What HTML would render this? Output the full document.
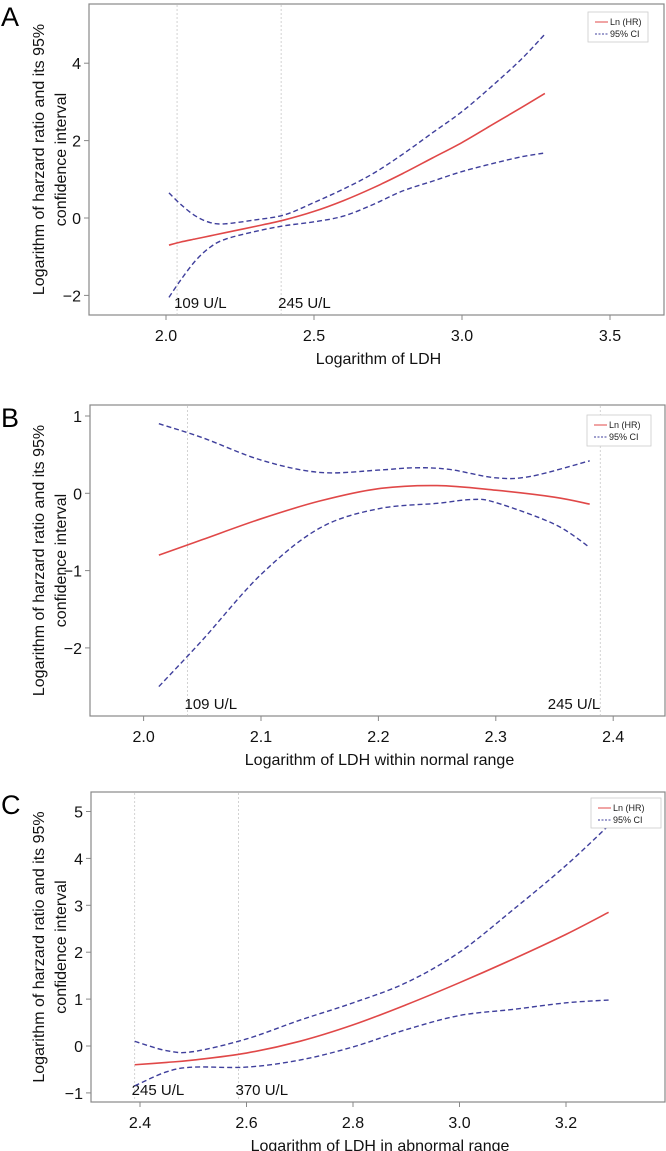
<!DOCTYPE html>
<html><head><meta charset="utf-8">
<style>
html,body{margin:0;padding:0;background:#fff;}
svg{display:block;font-family:"Liberation Sans",sans-serif;}
</style></head>
<body>
<svg id="fig" width="666" height="1151" viewBox="0 0 666 1151" xmlns="http://www.w3.org/2000/svg"></svg>
<script>
// ---------- Panel A data ----------
const aX = [2.01,2.05,2.1,2.15,2.2,2.3,2.4,2.5,2.6,2.7,2.8,2.9,3.0,3.1,3.2,3.28];
const aHR = [-0.7,-0.62,-0.54,-0.46,-0.38,-0.22,-0.05,0.17,0.45,0.78,1.15,1.55,1.95,2.4,2.85,3.22];
const aUp = [0.65,0.35,0.05,-0.12,-0.15,-0.05,0.08,0.4,0.75,1.15,1.65,2.2,2.75,3.4,4.1,4.75];
const aLo = [-2.05,-1.6,-1.1,-0.75,-0.55,-0.35,-0.2,-0.1,0.05,0.35,0.7,0.95,1.2,1.4,1.58,1.68];
const aXTicks = [2.0,2.5,3.0,3.5];
const aXTickLabels = ["2.0","2.5","3.0","3.5"];
const aYTicks = [-2,0,2,4];
const aYTickLabels = ["\u22122","0","2","4"];
const aRefX = [2.0374,2.389];
const aRefLabels = ["109 U/L","245 U/L"];
// ---------- Panel B data ----------
const bX = [2.013,2.05,2.1,2.15,2.2,2.25,2.3,2.35,2.38];
const bHR = [-0.8,-0.6,-0.33,-0.1,0.06,0.1,0.04,-0.05,-0.14];
const bUpX = [2.013,2.05,2.1,2.15,2.2,2.23,2.26,2.3,2.33,2.38];
const bUp = [0.9,0.72,0.43,0.27,0.3,0.33,0.31,0.2,0.22,0.42];
const bLoX = [2.013,2.05,2.1,2.15,2.2,2.25,2.28,2.3,2.35,2.38];
const bLo = [-2.5,-1.9,-1.05,-0.45,-0.2,-0.13,-0.08,-0.12,-0.4,-0.7];
const bXTicks = [2.0,2.1,2.2,2.3,2.4];
const bXTickLabels = ["2.0","2.1","2.2","2.3","2.4"];
const bYTicks = [-2,-1,0,1];
const bYTickLabels = ["\u22122","\u22121","0","1"];
const bRefX = [2.0374,2.389];
const bRefLabels = ["109 U/L","245 U/L"];
// ---------- Panel C data ----------
const cX = [2.39,2.45,2.5,2.6,2.7,2.8,2.9,3.0,3.1,3.2,3.28];
const cHR = [-0.4,-0.35,-0.3,-0.15,0.1,0.45,0.88,1.35,1.85,2.38,2.85];
const cUp = [0.1,-0.1,-0.12,0.15,0.55,0.92,1.35,2.0,2.9,3.85,4.7];
const cLo = [-0.85,-0.55,-0.45,-0.45,-0.3,-0.02,0.35,0.65,0.78,0.92,0.98];
const cXTicks = [2.4,2.6,2.8,3.0,3.2];
const cXTickLabels = ["2.4","2.6","2.8","3.0","3.2"];
const cYTicks = [-1,0,1,2,3,4,5];
const cYTickLabels = ["\u22121","0","1","2","3","4","5"];
const cRefX = [2.39,2.585];
const cRefLabels = ["245 U/L","370 U/L"];

const NS = "http://www.w3.org/2000/svg";
const svg = document.getElementById('fig');
function mk(tag, attrs, parent){
  const e = document.createElementNS(NS, tag);
  for (const k in attrs) e.setAttribute(k, attrs[k]);
  (parent||svg).appendChild(e);
  return e;
}
function smooth(pts){
  let d = "M"+pts[0][0].toFixed(2)+","+pts[0][1].toFixed(2);
  for (let i=0;i<pts.length-1;i++){
    const p0=pts[Math.max(0,i-1)], p1=pts[i], p2=pts[i+1], p3=pts[Math.min(pts.length-1,i+2)];
    const c1=[p1[0]+(p2[0]-p0[0])/6, p1[1]+(p2[1]-p0[1])/6];
    const c2=[p2[0]-(p3[0]-p1[0])/6, p2[1]-(p3[1]-p1[1])/6];
    d += " C"+c1[0].toFixed(2)+","+c1[1].toFixed(2)+" "+c2[0].toFixed(2)+","+c2[1].toFixed(2)+" "+p2[0].toFixed(2)+","+p2[1].toFixed(2);
  }
  return d;
}
function panel(cfg){
  const g = mk('g', {});
  
  
  const sx = v => cfg.px0 + (v - cfg.vx0) * cfg.kx;
  const sy = v => cfg.py0 - (v - cfg.vy0) * cfg.ky;
  // reference lines
  cfg.refX.forEach((r,i)=>{
    const l = mk('line', {x1:sx(r),x2:sx(r),y1:cfg.top+1,y2:cfg.bottom-1,stroke:'#c8c8c8','stroke-width':0.8,'stroke-dasharray':'2,2'}, g);
    
    
    const anchor = cfg.refAnchor[i];
    const t = mk('text', {x:sx(r)+(anchor==='end'?0:-3),y:cfg.bottom-7,'font-size':15,fill:'#111','text-anchor':anchor}, g);
    t.textContent = cfg.refLabels[i];
    
    
  });
  // frame
  const f = mk('rect', {x:cfg.left,y:cfg.top,width:cfg.right-cfg.left,height:cfg.bottom-cfg.top,fill:'none',stroke:'#888','stroke-width':1.2}, g);
  
  
  // x ticks
  cfg.xTicks.forEach((v,i)=>{
    mk('line',{x1:sx(v),x2:sx(v),y1:cfg.bottom,y2:cfg.bottom+5,stroke:'#888','stroke-width':1},g);
    const t = mk('text',{x:sx(v),y:cfg.bottom+26,'font-size':16,'text-anchor':'middle',fill:'#111'},g);
    t.textContent = cfg.xLabels[i];
    
    
  });
  // y ticks
  cfg.yTicks.forEach((v,i)=>{
    mk('line',{x1:cfg.left-5,x2:cfg.left,y1:sy(v),y2:sy(v),stroke:'#888','stroke-width':1},g);
    const t = mk('text',{x:cfg.left-8,y:sy(v)+6,'font-size':16,'text-anchor':'end',fill:'#111'},g);
    t.textContent = cfg.yLabels[i];
    
    
  });
  // curves
  const up = mk('path',{d:smooth(cfg.upX.map((x,i)=>[sx(x),sy(cfg.up[i])])),fill:'none',stroke:'#3f3f9c','stroke-width':1.4,'stroke-dasharray':'5,3'},g);
  
  
  const lo = mk('path',{d:smooth(cfg.loX.map((x,i)=>[sx(x),sy(cfg.lo[i])])),fill:'none',stroke:'#3f3f9c','stroke-width':1.4,'stroke-dasharray':'5,3'},g);
  
  
  const hr = mk('path',{d:smooth(cfg.hrX.map((x,i)=>[sx(x),sy(cfg.hr[i])])),fill:'none',stroke:'#e04848','stroke-width':1.6},g);
  
  
  // legend
  const L = cfg.legend;
  const lg = mk('g',{},g);
  
  
  mk('rect',{x:L[0],y:L[1],width:L[2],height:L[3],fill:'#fff',stroke:'#ccc','stroke-width':0.8},lg);
  mk('line',{x1:L[0]+7,x2:L[0]+20,y1:L[1]+10,y2:L[1]+10,stroke:'#e04848','stroke-width':1},lg);
  mk('line',{x1:L[0]+7,x2:L[0]+20,y1:L[1]+22,y2:L[1]+22,stroke:'#3f3f9c','stroke-width':1,'stroke-dasharray':'2,1.5'},lg);
  const t1 = mk('text',{x:L[0]+22,y:L[1]+13,'font-size':9,fill:'#222'},lg); t1.textContent='Ln (HR)';
  
  
  const t2 = mk('text',{x:L[0]+22,y:L[1]+25,'font-size':9,fill:'#222'},lg); t2.textContent='95% CI';
  
  
  // axis titles
  const xt = mk('text',{x:(cfg.left+cfg.right)/2+2,y:cfg.bottom+49,'font-size':16,'text-anchor':'middle',fill:'#111'},g);
  xt.textContent = cfg.xTitle;
  
  
  const cy = (cfg.top+cfg.bottom)/2;
  const yt1 = mk('text',{x:0,y:0,'font-size':16,'text-anchor':'middle',fill:'#111',transform:'translate(44,'+cy+') rotate(-90)'},g);
  yt1.textContent = 'Logarithm of harzard ratio and its 95%';
  
  
  const yt2 = mk('text',{x:0,y:0,'font-size':16,'text-anchor':'middle',fill:'#111',transform:'translate(66,'+cy+') rotate(-90)'},g);
  yt2.textContent = 'confidence interval';
  
  
  const pl = mk('text',{x:1,y:cfg.top+22,'font-size':27,fill:'#000'},g);
  pl.textContent = cfg.letter;
  
  
}
panel({id:'a',letter:'A',left:89,right:664,top:4,bottom:315,px0:166,vx0:2.0,kx:296,py0:218,vy0:0,ky:38.7,
  hrX:aX,hr:aHR,upX:aX,up:aUp,loX:aX,lo:aLo,xTicks:aXTicks,xLabels:aXTickLabels,yTicks:aYTicks,yLabels:aYTickLabels,
  refX:aRefX,refLabels:aRefLabels,refAnchor:['start','start'],legend:[588,12,60,30],xTitle:'Logarithm of LDH'});
panel({id:'b',letter:'B',left:90,right:665,top:405,bottom:716,px0:143.6,vx0:2.0,kx:1174,py0:493.3,vy0:0,ky:77.3,
  hrX:bX,hr:bHR,upX:bUpX,up:bUp,loX:bLoX,lo:bLo,xTicks:bXTicks,xLabels:bXTickLabels,yTicks:bYTicks,yLabels:bYTickLabels,
  refX:bRefX,refLabels:bRefLabels,refAnchor:['start','end'],legend:[587,415,64,31],xTitle:'Logarithm of LDH within normal range'});
panel({id:'c',letter:'C',left:91,right:665,top:792,bottom:1102,px0:140,vx0:2.4,kx:532.5,py0:1046,vy0:0,ky:46.9,
  hrX:cX,hr:cHR,upX:cX,up:cUp,loX:cX,lo:cLo,xTicks:cXTicks,xLabels:cXTickLabels,yTicks:cYTicks,yLabels:cYTickLabels,
  refX:cRefX,refLabels:cRefLabels,refAnchor:['start','start'],legend:[591,798,70,30],xTitle:'Logarithm of LDH in abnormal range'});
</script>
</body></html>
